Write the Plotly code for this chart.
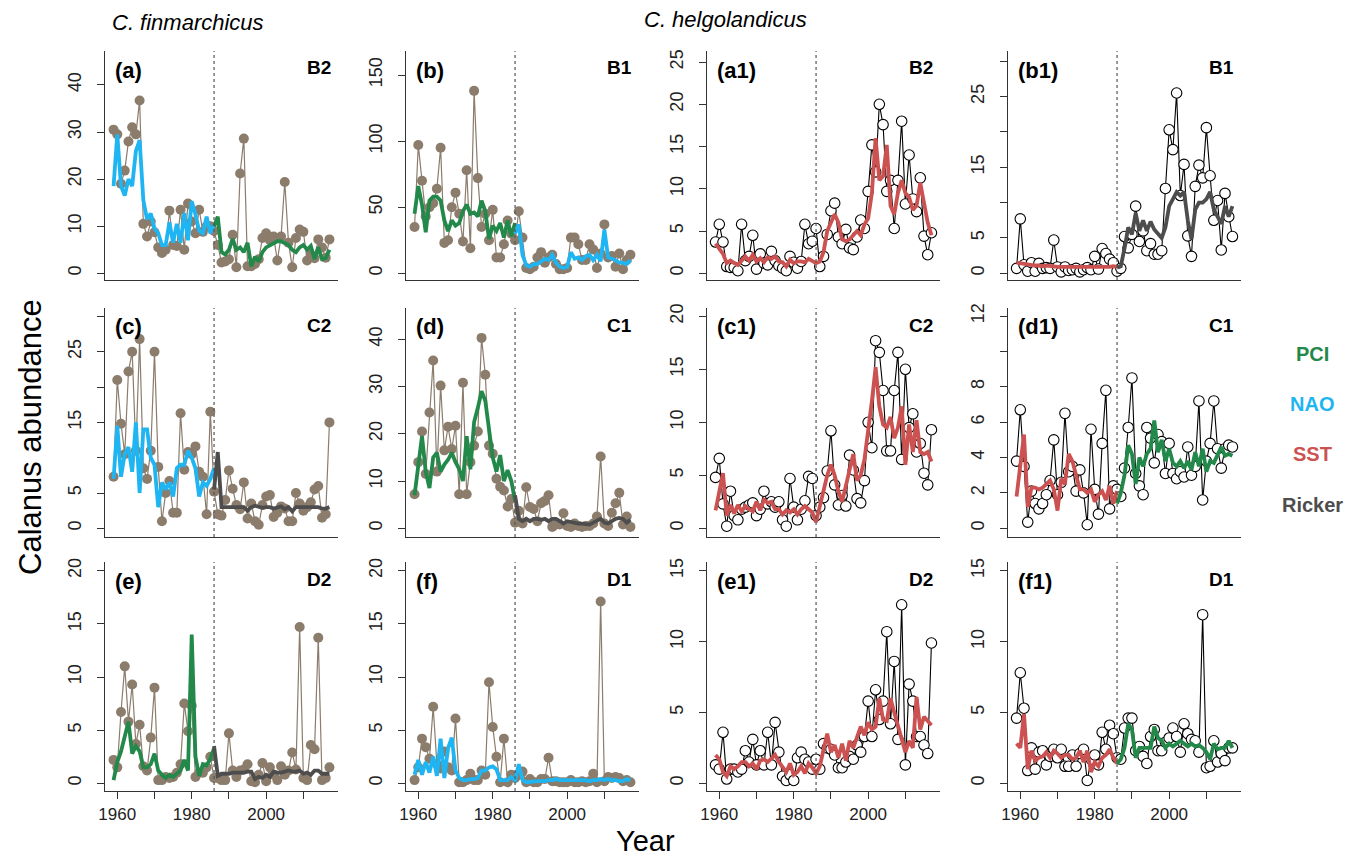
import plotly.graph_objects as go

W, H = 1354, 858
years = list(range(1959, 2018))
years_pre = list(range(1959, 1987))
years_post = list(range(1986, 2018))

# ---------------- C. finmarchicus ----------------
a_obs = [30.5, 29.5, 19.0, 21.8, 28.0, 31.0, 29.5, 36.7, 10.5, 7.8,
         11.0, 8.7, 5.5, 4.3, 5.0, 13.3, 6.0, 5.8, 13.5, 5.0,
         14.8, 11.0, 8.5, 13.5, 8.8, 10.0, 10.0, 9.0, 6.0, 2.3,
         2.5, 3.0, 8.2, 1.3, 21.2, 28.6, 1.5, 1.5, 2.0, 3.0,
         7.5, 8.5, 7.0, 7.8, 2.7, 7.8, 19.4, 6.5, 1.3, 7.5,
         9.3, 8.8, 2.7, 4.0, 3.2, 7.2, 5.5, 3.3, 7.2]
a_nao = [18.5, 29.5, 18.5, 16.5, 20, 18.5, 26, 28.3, 15.5, 11.5,
         12.7, 9.5, 8.5, 6, 6, 10.8, 6.5, 10.5, 6.5, 12.8,
         7, 15.3, 12.5, 9, 8.5, 12, 8.5, 10.5]
a_pci = [10, 12, 4.5, 4, 5, 7.3, 5, 5.5, 4.5, 6.5,
         1.5, 3.5, 2.5, 4.5, 5.5, 6, 6.5, 6.8, 6.8, 6.5,
         6, 5, 4.5, 5.5, 6, 5, 5.8, 3, 5.5, 3,
         3.2, 5]

b_obs = [35, 97, 70, 43, 50, 53, 64, 95, 23, 25,
         50, 61, 45, 24, 78, 19, 138, 72, 35, 45,
         25, 48, 12, 12, 22, 40, 30, 25, 47, 27,
         4, 3, 5, 12, 16, 8, 12, 14, 7, 3,
         3, 4, 27, 27, 22, 10, 10, 22, 18, 4,
         15, 37, 12, 13, 5, 15, 3, 10, 14]
b_pci = [45, 66, 52, 31, 55, 58, 58, 55, 40, 32,
         40, 36, 38, 47, 52, 45, 46, 43, 55, 47,
         26, 36, 32, 38, 27, 40, 28, 38]
b_nao = [30, 37, 14, 6, 5, 7, 7, 9, 11, 10,
         14, 8, 5, 4, 5, 16, 11, 12, 10, 13,
         14, 10, 14, 9, 33, 12, 11, 10, 8, 8,
         7, 10]

c_obs = [7.3, 21, 14.8, 10.5, 22.2, 25, 11, 26.8, 8.5, 7,
         11, 25, 8.7, 1, 5, 6.7, 2.2, 2.2, 16.3, 8.3,
         10.8, 10.5, 11.6, 8, 7.3, 2, 16.5, 5.2, 2, 1.8,
         4, 8.2, 5.6, 3.3, 2.7, 6.5, 1.4, 3.5, 1, 0.5,
         3.3, 4.5, 4.7, 1.6, 2.2, 3.1, 2.8, 1, 1, 5,
         3.5, 2.5, 3, 3.7, 5.5, 6, 1.5, 2, 15]
c_nao = [7, 14.5, 7.3, 10.5, 11.5, 8, 15, 5, 14, 14,
         10, 9, 3, 6.5, 5.5, 6.5, 4.5, 8.5, 9, 9,
         11, 10, 8.5, 4.5, 6.5, 6, 7, 8.5]
c_ricker = [5.5, 10.8, 3.0, 3.0, 3.0, 3.0, 2.9, 3.0, 3.0, 2.5,
            3.0, 3.2, 3.0, 2.9, 3.0, 3.0, 2.8, 3.0, 3.1, 2.7,
            3.0, 2.4, 3.0, 3.0, 3.0, 3.0, 3.0, 3.0, 3.0, 2.8,
            2.8, 3.0]

d_obs = [7.2, 14, 20.5, 11.5, 24.5, 35.5, 12, 30.2, 16.5, 21.5,
         16.8, 21.7, 7.2, 30.8, 7.2, 14, 17.5, 20.5, 40.3, 32.5,
         17.5, 15.8, 10.5, 8.8, 8, 4.6, 6.2, 1.2, 3.7, 1,
         8.7, 4.5, 4.1, 1.5, 5.3, 5.8, 7, 0.3, 0.8, 0.8,
         3.2, 0.5, 0.3, 1, 0.5, 0.3, 0.5, 0.5, 1, 2.5,
         15.2, 1, 0.5, 3.3, 5.3, 7.5, 0.8, 2.5, 0.3]
d_pci = [7, 13, 19.5, 12, 8.5, 15, 16, 12, 13.5, 14.5,
         16, 14, 12.5, 10, 19.5, 12.5, 22.5, 25.5, 29, 27,
         21, 15, 12, 15.5, 10, 12.3, 10, 5.8]
d_ricker = [7, 2, 1.5, 2, 1.5, 2, 2, 1.8, 2, 1.5,
            2, 2, 1.5, 1, 1.5, 1.3, 1, 1, 1, 0.8,
            0.8, 1.2, 1.5, 2, 1.2, 1, 1.5, 2, 2.2, 2,
            1.2, 1.8]

e_obs = [2.2, 1.5, 6.7, 11, 5.8, 9.3, 3.7, 5.5, 1.6, 1.2,
         4.3, 9, 0.3, 0.3, 0.6, 0.5, 0.6, 1, 1.8, 7.5,
         4.9, 7.3, 0.6, 1, 1, 1.5, 2.5, 0.5, 0.5, 0.3,
         0.3, 4.7, 1.2, 0.6, 1.2, 1.3, 1.8, 0.2, 0.1, 0.8,
         1.9, 0.2, 1.5, 0.8, 0.3, 1.6, 0.8, 1.2, 2.9, 1.3,
         14.7, 0.5, 0.3, 3.6, 3.2, 13.7, 0.3, 0.5, 1.5]
e_pci = [0.3, 2, 3, 4.5, 5.8, 2.8, 3.5, 3, 1.5, 1.5,
         1.8, 2.8, 1.2, 0.8, 0.5, 0.8, 0.6, 0.9, 1.2, 2.2,
         1.2, 14, 2.5, 0.7, 1.8, 1.7, 2.3, 3.3]
e_ricker = [3.5, 0.7, 0.9, 0.9, 0.9, 1.0, 1.0, 1.0, 1.0, 1.1,
            1.1, 0.4, 0.6, 0.5, 0.8, 0.6, 1.1, 1.0, 1.0, 1.1,
            1.2, 1.1, 1.1, 1.2, 0.9, 1.0, 0.8, 1.2, 1.2, 0.9,
            0.9, 0.9]

f_obs = [0.3, 1.5, 4.2, 3.4, 2.3, 7.2, 1.8, 1.4, 3.0, 1.5,
         1.2, 6.1, 0.1, 0.1, 0.3, 0.9, 0.3, 0.3, 1.2, 0.8,
         9.5, 5.3, 2.5, 0.1, 4.2, 0.1, 0.8, 0.5, 0.8, 1.1,
         0.1, 0.4, 0.1, 0.1, 0.4, 0.4, 2.4, 0.2, 0.2, 0.1,
         0.1, 0.1, 0.3, 0.1, 0.1, 0.2, 0.1, 0.2, 0.9, 0.1,
         17.1, 0.2, 0.6, 0.5, 0.6, 0.5, 0.2, 0.3, 0.1]
f_nao = [0.8, 2.2, 0.8, 2.0, 1.0, 2.5, 0.7, 4.2, 0.5, 3.3,
         4.3, 1.2, 0.5, 0.3, 0.3, 0.4, 0.4, 0.5, 1.2, 1.2,
         1.5, 1.6, 1.3, 0.3, 0.3, 0.3, 0.6, 0.3, 1.8, 0.3,
         0.1, 0.15, 0.15, 0.2, 0.2, 0.2, 0.3, 0.3, 0.4, 0.3,
         0.3, 0.3, 0.3, 0.3, 0.3, 0.3, 0.3, 0.2, 0.3, 0.3,
         0.4, 0.3, 0.4, 0.3, 0.3, 0.2, 0.2, 0.4, 0.3]

# ---------------- C. helgolandicus ----------------
a1_obs = [3.7, 5.8, 3.7, 0.8, 0.7, 0.7, 0.3, 5.8, 1.5, 2.0,
          4.5, 0.5, 2.3, 1.2, 1.0, 2.6, 1.5, 0.9, 0.6, 0.3,
          2.0, 1.3, 0.6, 1.4, 5.8, 3.5, 3.8, 5.3, 0.8, 2.0,
          4.6, 7.4, 8.3, 4.3, 3.5, 5.2, 3.0, 2.8, 4.3, 6.3,
          5.3, 9.7, 15.2, 12.0, 20.0, 17.6, 9.7, 11.0, 5.3, 11.0,
          18.0, 8.2, 14.0, 8.8, 7.3, 11.3, 4.4, 2.2, 4.8]
a1_sst = [3.5, 2.9, 2.3, 1.2, 1.5, 1.2, 1.0, 1.5, 2.0, 1.5,
          2.2, 1.4, 1.8, 1.3, 1.9, 1.7, 2.0, 1.4, 1.3, 0.8,
          1.6, 1.2, 1.4, 1.4, 1.3, 1.7, 1.4, 1.2, 1.4, 2.5,
          5.0, 6.0, 7.0, 6.0, 4.0, 3.8, 4.0, 4.5, 5.0, 4.5,
          5.8, 6.5, 9.5, 16.0, 11.0, 11.5, 15.2, 8.0, 7.0, 9.5,
          11.0, 9.5, 9.0, 7.5, 8.0, 10.7, 8.0, 6.0, 4.5]

b1_obs = [0.7, 7.7, 1.2, 0.3, 1.5, 0.3, 1.4, 0.7, 0.8, 0.7,
          4.7, 0.9, 0.2, 0.9, 0.4, 0.5, 0.7, 0.2, 0.5, 0.8,
          0.5, 2.4, 0.6, 3.5, 2.8, 2.0, 1.5, 0.3, 0.7, 5.2,
          3.6, 5.5, 9.5, 4.5, 6.0, 3.2, 4.2, 2.7, 2.7, 3.2,
          12.0, 20.3, 17.5, 25.5, 11.0, 15.4, 5.3, 2.4, 12.3, 15.3,
          13.5, 20.6, 13.8, 7.5, 10.3, 3.3, 11.3, 8.0, 5.2]
b1_sst = [1.5, 1.4, 1.3, 1.2, 1.2, 1.1, 1.1, 1.0, 1.1, 1.0,
          1.0, 0.9, 0.9, 0.9, 0.8, 0.8, 0.8, 0.8, 0.8, 0.9,
          0.8, 0.8, 0.9, 0.9, 0.9, 0.9, 1.0, 0.9]
b1_ricker = [0.8, 1.0, 3.5, 6.5, 5.5, 8.5, 6.0, 7.5, 6.0, 7.3,
             6.2, 5.5, 5.0, 6.5, 9.5, 10.5, 11.5, 11.0, 11.5, 7.5,
             4.8, 9.0, 10.0, 10.0, 10.5, 11.5, 9.0, 8.0, 7.0, 9.5,
             8.0, 9.5]

c1_obs = [4.8, 6.6, 2.3, 0.2, 3.5, 1.2, 0.8, 1.8, 2.0, 2.2,
          2.4, 1.2, 1.8, 3.5, 2.3, 2.5, 2.0, 2.5, 0.8, 0.2,
          4.7, 2.0, 0.8, 1.8, 2.6, 4.9, 4.7, 1.2, 2.0, 2.9,
          5.4, 9.2, 4.1, 2.2, 3.1, 2.1, 6.9, 5.5, 2.8, 2.4,
          4.5, 10.0, 7.6, 17.7, 16.6, 13.0, 7.3, 7.3, 13.0, 16.6,
          6.5, 15.0, 9.5, 10.8, 7.2, 8.0, 5.2, 4.1, 9.3]
c1_sst = [1.7, 3.5, 5.2, 1.2, 2.2, 1.4, 2.2, 1.6, 2.1, 1.8,
          1.6, 2.5, 1.7, 2.7, 2.4, 2.5, 1.8, 1.8, 1.3, 1.7,
          1.5, 1.8, 1.3, 1.8, 2.1, 1.8, 1.5, 0.6, 2.2, 3.5,
          5.0, 6.0, 5.0, 3.5, 2.5, 4.0, 5.5, 7.0, 4.5, 5.0,
          6.5, 9.0, 12.0, 15.2, 11.5, 9.8, 9.5, 10.5, 8.5, 9.5,
          11.5, 6.0, 9.8, 7.2, 10.2, 7.2, 7.0, 7.2, 6.3]

d1_obs = [3.8, 6.7, 3.5, 0.35, 2.1, 1.4, 1.1, 1.4, 1.9, 2.7,
          5.0, 1.9, 2.6, 6.5, 3.2, 3.5, 2.1, 3.3, 2.0, 0.2,
          5.6, 2.2, 0.8, 4.8, 7.8, 1.1, 2.4, 2.2, 1.8, 3.4,
          5.7, 8.5, 3.1, 2.4, 1.9, 5.7, 5.1, 3.7, 5.3, 4.9,
          3.1, 4.8, 3.1, 2.8, 3.2, 2.9, 4.6, 3.0, 3.5, 7.2,
          1.6, 3.8, 4.8, 7.2, 4.5, 3.4, 4.5, 4.7, 4.6]
d1_sst = [1.8, 3.5, 5.3, 1.2, 2.3, 2.3, 2.2, 2.3, 2.5, 2.7,
          2.2, 1.0, 2.8, 2.5, 4.2, 3.8, 3.0, 2.2, 2.2, 2.0,
          2.2, 1.5, 1.9, 2.1, 1.6, 2.4, 1.4, 2.1]
d1_pci = [1.4, 2.0, 3.0, 4.7, 4.2, 2.5, 4.0, 3.5, 4.2, 4.5,
          6.1, 4.3, 5.0, 3.8, 4.5, 3.7, 3.5, 3.8, 3.4, 3.8,
          3.3, 4.3, 3.5, 4.5, 3.2, 3.8, 3.7, 4.2, 4.6, 4.1,
          4.2, 4.1]

e1_obs = [1.3, 1.0, 3.6, 0.3, 1.0, 1.0, 0.8, 1.0, 2.3, 1.5,
          3.1, 1.3, 2.3, 1.3, 3.6, 1.3, 4.3, 2.2, 0.5, 0.2,
          0.6, 0.2, 1.8, 2.2, 1.7, 1.5, 1.0, 1.7, 1.0, 2.8,
          2.5, 2.4, 2.0, 1.1, 1.1, 1.5, 1.9, 1.7, 2.7, 2.2,
          3.3, 5.8, 3.3, 6.6, 4.5, 5.8, 10.7, 4.2, 8.6, 3.1,
          12.6, 1.3, 7.0, 5.8, 3.3, 3.3, 2.7, 2.1, 9.9]
e1_sst = [2.0, 1.7, 0.8, 0.5, 1.2, 1.0, 1.2, 1.5, 1.5, 1.2,
          1.4, 1.0, 1.6, 1.7, 1.5, 1.8, 2.0, 1.5, 1.2, 0.8,
          1.4, 0.6, 0.8, 1.2, 0.7, 1.4, 1.1, 0.7, 1.2, 2.5,
          3.5, 2.2, 2.7, 1.8, 2.8, 1.6, 3.0, 2.5, 3.2, 4.0,
          3.4, 4.3, 3.8, 4.0, 6.0, 4.5, 4.4, 6.0, 5.0, 4.0,
          3.0, 2.2, 3.0, 2.5, 6.1, 3.8, 4.7, 4.4, 4.1]

f1_obs = [4.6, 7.8, 5.3, 0.9, 2.5, 1.0, 2.2, 2.3, 1.3, 1.9,
          2.4, 1.8, 2.4, 1.2, 1.2, 2.0, 1.2, 2.1, 2.4, 0.2,
          1.7, 2.0, 1.3, 3.6, 2.4, 4.1, 3.5, 1.8, 1.7, 3.9,
          4.6, 4.6, 2.3, 2.6, 1.9, 1.4, 3.3, 3.8, 2.3, 2.3,
          2.9, 3.2, 3.9, 3.3, 2.2, 4.2, 3.5, 3.1, 3.0, 2.2,
          11.9, 1.1, 1.2, 3.0, 1.5, 2.1, 1.6, 2.5, 2.5]
f1_sst = [2.8, 2.5, 4.9, 1.0, 2.3, 1.6, 1.8, 1.9, 2.2, 1.8,
          2.3, 2.1, 1.8, 2.0, 2.0, 1.7, 1.8, 2.3, 1.5, 2.3,
          0.8, 1.5, 1.2, 1.8, 2.0, 2.4, 1.8, 1.4]
f1_pci = [1.4, 1.7, 2.5, 4.2, 3.8, 1.8, 2.5, 2.5, 2.5, 2.5,
          4.0, 3.2, 3.0, 2.5, 2.8, 2.6, 2.8, 3.0, 2.8, 2.6,
          2.8, 2.6, 2.7, 2.5, 2.2, 1.7, 2.8, 2.4, 2.5, 2.5,
          3.0, 2.5]

# ---------------- styling ----------------
FONT = "Liberation Sans, Arial, Helvetica, sans-serif"
COL = {"PCI": "#23894a", "NAO": "#1fb5f2", "SST": "#cc5252", "Ricker": "#4d4d4d"}
TAUPE = "#8b7c6b"
AXC = "#333333"

col_px = [(105, 338), (406, 639), (707, 940), (1008, 1241)]
row_px = [(51, 280), (308, 537), (562, 791)]


def xd(a, b):
    return [a / W, b / W]


def yd(top, bot):
    return [1 - bot / H, 1 - top / H]


panels = [
    ("(a)", "B2", "fin", a_obs, [("NAO", years_pre, a_nao), ("PCI", years_post, a_pci)],
     273.3, 4.71, [0, 10, 20, 30, 40], ["0", "10", "20", "30", "40"]),
    ("(b)", "B1", "fin", b_obs, [("PCI", years_pre, b_pci), ("NAO", years_post, b_nao)],
     273.3, 1.322, [0, 50, 100, 150], ["0", "50", "100", "150"]),
    ("(a1)", "B2", "hel", a1_obs, [("SST", years, a1_sst)],
     273.3, 8.45, [0, 5, 10, 15, 20, 25], ["0", "5", "10", "15", "20", "25"]),
    ("(b1)", "B1", "hel", b1_obs, [("SST", years_pre, b1_sst), ("Ricker", years_post, b1_ricker)],
     273.3, 7.07, [0, 5, 10, 15, 20, 25, 30], ["0", "5", "", "15", "", "25", ""]),
    ("(c)", "C2", "fin", c_obs, [("NAO", years_pre, c_nao), ("Ricker", years_post, c_ricker)],
     528.3, 7.06, [0, 5, 10, 15, 20, 25, 30], ["0", "5", "", "15", "", "25", ""]),
    ("(d)", "C1", "fin", d_obs, [("PCI", years_pre, d_pci), ("Ricker", years_post, d_ricker)],
     528.3, 4.725, [0, 10, 20, 30, 40], ["0", "10", "20", "30", "40"]),
    ("(c1)", "C2", "hel", c1_obs, [("SST", years, c1_sst)],
     528.3, 10.6, [0, 5, 10, 15, 20], ["0", "5", "10", "15", "20"]),
    ("(d1)", "C1", "hel", d1_obs, [("SST", years_pre, d1_sst), ("PCI", years_post, d1_pci)],
     528.3, 17.69, [0, 2, 4, 6, 8, 10, 12], ["0", "2", "4", "6", "8", "", "12"]),
    ("(e)", "D2", "fin", e_obs, [("PCI", years_pre, e_pci), ("Ricker", years_post, e_ricker)],
     783.3, 10.63, [0, 5, 10, 15, 20], ["0", "5", "10", "15", "20"]),
    ("(f)", "D1", "fin", f_obs, [("NAO", years, f_nao)],
     783.3, 10.63, [0, 5, 10, 15, 20], ["0", "5", "10", "15", "20"]),
    ("(e1)", "D2", "hel", e1_obs, [("SST", years, e1_sst)],
     783.3, 14.17, [0, 5, 10, 15], ["0", "5", "10", "15"]),
    ("(f1)", "D1", "hel", f1_obs, [("SST", years_pre, f1_sst), ("PCI", years_post, f1_pci)],
     783.3, 14.17, [0, 5, 10, 15], ["0", "5", "10", "15"]),
]

fig = go.Figure()
layout = {}
annotations = []
shapes = []

for i, (lab, stage, sp, obs, fits, z, s, tv, tt) in enumerate(panels):
    r, c = divmod(i, 4)
    n = i + 1
    xa, ya = ("x" if n == 1 else f"x{n}"), ("y" if n == 1 else f"y{n}")
    top, bot = row_px[r]
    left, right = col_px[c]
    yrange = [-(bot - z) / s, (z - top) / s]

    if sp == "fin":
        fig.add_trace(go.Scatter(x=years, y=obs, xaxis=xa, yaxis=ya, mode="lines+markers",
                                 line=dict(color=TAUPE, width=1.2),
                                 marker=dict(color=TAUPE, size=10, line=dict(width=0)),
                                 showlegend=False, hoverinfo="skip"))
    else:
        fig.add_trace(go.Scatter(x=years, y=obs, xaxis=xa, yaxis=ya, mode="lines+markers",
                                 line=dict(color="black", width=1.1),
                                 marker=dict(color="white", size=10.5, line=dict(color="black", width=1.1)),
                                 showlegend=False, hoverinfo="skip"))
    for name, yrs, vals in fits:
        fig.add_trace(go.Scatter(x=yrs, y=vals, xaxis=xa, yaxis=ya, mode="lines",
                                 line=dict(color=COL[name], width=3.8),
                                 showlegend=False, hoverinfo="skip"))

    shapes.append(dict(type="line", xref=xa, yref=f"{ya} domain", x0=1986, x1=1986, y0=0, y1=1,
                       line=dict(color="#555555", width=1.2, dash="dot")))

    bottom_row = (r == 2)
    layout["xaxis" if n == 1 else f"xaxis{n}"] = dict(
        domain=xd(left, right), range=[1956.7, 2019.3], anchor=ya, automargin=False,
        showline=True, linecolor=AXC, linewidth=1.3, showgrid=False, zeroline=False,
        ticks="outside" if bottom_row else "", ticklen=7, tickcolor=AXC, tickwidth=1.3,
        tickvals=[1960, 1970, 1980, 1990, 2000, 2010],
        ticktext=["1960", "", "1980", "", "2000", ""],
        showticklabels=bottom_row, tickfont=dict(family=FONT, size=17, color="#222222"))
    layout["yaxis" if n == 1 else f"yaxis{n}"] = dict(
        domain=yd(top, bot), range=yrange, anchor=xa, automargin=False,
        showline=True, linecolor=AXC, linewidth=1.3, showgrid=False, zeroline=False,
        ticks="outside", ticklen=7, tickcolor=AXC, tickwidth=1.3,
        tickvals=tv, ticktext=tt, tickangle=-90, ticklabelstandoff=9,
        tickfont=dict(family=FONT, size=18, color="#222222"))

    annotations.append(dict(x=(left + 8) / W, y=1 - (top + 19) / H, xref="paper", yref="paper",
                            text=f"<b>{lab}</b>", showarrow=False, xanchor="left", yanchor="middle",
                            font=dict(family=FONT, size=22, color="black")))
    annotations.append(dict(x=(right - 5) / W, y=1 - (top + 17) / H, xref="paper", yref="paper",
                            text=f"<b>{stage}</b>", showarrow=False, xanchor="right", yanchor="middle",
                            font=dict(family=FONT, size=19, color="black")))

# titles
annotations.append(dict(x=188 / W, y=1 - 22 / H, xref="paper", yref="paper", text="<i>C. finmarchicus</i>",
                        showarrow=False, xanchor="center", yanchor="middle",
                        font=dict(family=FONT, size=22, color="black")))
annotations.append(dict(x=725 / W, y=1 - 20 / H, xref="paper", yref="paper", text="<i>C. helgolandicus</i>",
                        showarrow=False, xanchor="center", yanchor="middle",
                        font=dict(family=FONT, size=22, color="black")))
annotations.append(dict(x=30 / W, y=1 - 437 / H, xref="paper", yref="paper", text="Calanus abundance",
                        showarrow=False, textangle=-90, xanchor="center", yanchor="middle",
                        font=dict(family=FONT, size=31, color="black")))
annotations.append(dict(x=645 / W, y=1 - 841 / H, xref="paper", yref="paper", text="Year",
                        showarrow=False, xanchor="center", yanchor="middle",
                        font=dict(family=FONT, size=29, color="black")))

# legend as colored text
leg_names = ["PCI", "NAO", "SST", "Ricker"]
leg_y = [354, 404, 454, 505]
for nm, yy in zip(leg_names, leg_y):
    annotations.append(dict(x=1312 / W, y=1 - yy / H, xref="paper", yref="paper", text=f"<b>{nm}</b>",
                            showarrow=False, xanchor="center", yanchor="middle",
                            font=dict(family=FONT, size=20, color=COL[nm])))

fig.update_layout(width=W, height=H, margin=dict(l=0, r=0, t=0, b=0),
                  paper_bgcolor="white", plot_bgcolor="white",
                  annotations=annotations, shapes=shapes, showlegend=False, **layout)

fig.write_html("out.html", config={"displayModeBar": False},
               post_script="document.body.style.margin='0';document.body.style.overflow='hidden';")
